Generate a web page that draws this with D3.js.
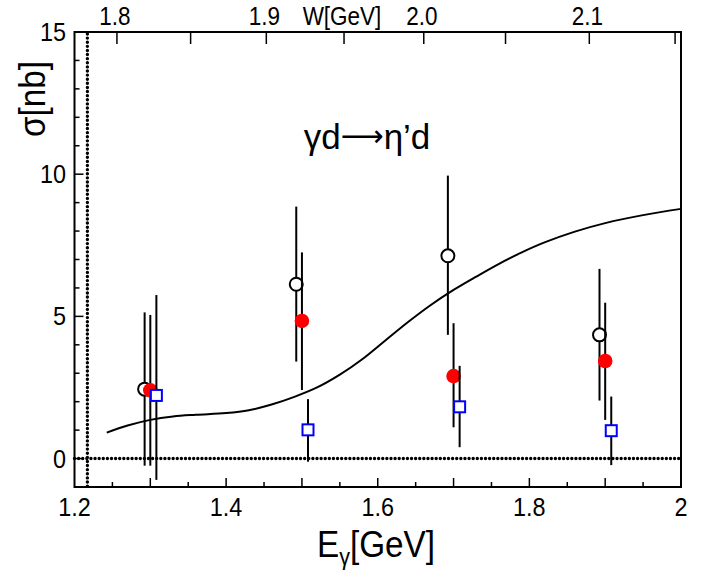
<!DOCTYPE html>
<html>
<head>
<meta charset="utf-8">
<script src="https://cdn.jsdelivr.net/npm/d3@7"></script>
<style>
  html, body { margin: 0; padding: 0; background: #fff; }
  svg { display: block; }
  text { font-family: "Liberation Sans", Arial, Helvetica, sans-serif; fill: #000; }
</style>
</head>
<body>
<svg id="chart" width="710" height="572"></svg>
<script>
// ---------- data ----------
const energies = [1.3, 1.5, 1.7, 1.9];

const openVal  = [2.44, 6.13, 7.13, 4.35];
const openLo   = [-0.25, 3.41, 4.35, 2.04];
const openHi   = [5.14, 8.86, 9.95, 6.67];

const redVal   = [2.40, 4.84, 2.90, 3.43];
const redLo    = [-0.25, 2.41, 1.10, 1.36];
const redHi    = [5.05, 7.25, 4.76, 5.48];

const blueVal  = [2.22, 1.01, 1.82, 0.98];
const blueLo   = [-0.75, -0.11, 0.40, -0.23];
const blueHi   = [5.75, 2.09, 3.26, 2.18];

const seriesShift = [-0.0075, 0.0, 0.008];   // open, red, blue horizontal offsets (GeV)

const curveE   = [1.2425, 1.27, 1.30, 1.33, 1.36, 1.40, 1.43, 1.46, 1.49, 1.52, 1.55, 1.58, 1.61, 1.64, 1.67, 1.70, 1.73, 1.76, 1.79, 1.82, 1.86, 1.90, 1.95, 2.00];
const curveS   = [0.91, 1.16, 1.36, 1.48, 1.54, 1.60, 1.70, 1.90, 2.17, 2.50, 2.95, 3.50, 4.15, 4.80, 5.40, 5.93, 6.40, 6.85, 7.25, 7.60, 7.98, 8.28, 8.56, 8.78];

const xTickLabels = ["1.2", "1.4", "1.6", "1.8", "2"];
const xTickValues = [1.2, 1.4, 1.6, 1.8, 2.0];
const yTickValues = [0, 5, 10, 15];
const wTickLabels = ["1.8", "1.9", "2.0", "2.1"];
const wTickValues = [1.8, 1.9, 2.0, 2.1];
const thresholdE = 1.217;

// ---------- layout ----------
const svg = d3.select("#chart");
const L = 74.5, R = 681, T = 32, B = 487;
const x = d3.scaleLinear().domain([1.2, 2.0]).range([L, R]);
const y = d3.scaleLinear().domain([-1, 15]).range([B, T]);
const mN = 0.9389;
const eFromW = w => (w * w - mN * mN) / (2 * mN);

// frame
svg.append("rect").attr("x", L).attr("y", T).attr("width", R - L).attr("height", B - T)
  .attr("fill", "none").attr("stroke", "#000").attr("stroke-width", 2);

// bottom ticks (inward)
const g = svg.append("g");
d3.range(1.2, 2.0001, 0.05).forEach((v, i) => {
  if (i === 0 || Math.abs(v - 2.0) < 1e-6) return;
  const major = i % 2 === 0;
  g.append("line").attr("x1", x(v)).attr("x2", x(v)).attr("y1", B).attr("y2", B - (major ? 9 : 5))
    .attr("stroke", "#000").attr("stroke-width", 1.5);
});
// left ticks
d3.range(-1, 15.001, 1).forEach(v => {
  if (v === -1 || v === 15) return;
  const major = v % 5 === 0;
  g.append("line").attr("x1", L).attr("x2", L + (major ? 9 : 5)).attr("y1", y(v)).attr("y2", y(v))
    .attr("stroke", "#000").attr("stroke-width", 1.5);
});
// top W ticks
d3.range(1.8, 2.1501, 0.05).forEach(w => {
  const e = eFromW(w);
  if (e < 1.2 || e > 2.0) return;
  g.append("line").attr("x1", x(e)).attr("x2", x(e)).attr("y1", T).attr("y2", T + 12)
    .attr("stroke", "#000").attr("stroke-width", 1.5);
});

// tick labels (slightly condensed like the original)
function condensed(sel, cx, cy, k) {
  return sel.attr("transform", `translate(${cx},${cy}) scale(${k},1)`);
}
xTickValues.forEach((v, i) => {
  condensed(svg.append("text"), x(v), 516, 0.9).attr("text-anchor", "middle")
    .attr("font-size", 26).text(xTickLabels[i]);
});
yTickValues.forEach(v => {
  condensed(svg.append("text"), 66, y(v) + 9, 0.9).attr("text-anchor", "end")
    .attr("font-size", 26).text(v);
});
wTickValues.forEach((w, i) => {
  condensed(svg.append("text"), x(eFromW(w)) - 2, 25, 0.9).attr("text-anchor", "middle")
    .attr("font-size", 25).text(wTickLabels[i]);
});
condensed(svg.append("text"), 342, 25, 0.9).attr("text-anchor", "middle")
  .attr("font-size", 25).text("W[GeV]");

// axis titles
const xt = condensed(svg.append("text"), 376, 557, 0.9).attr("text-anchor", "middle").attr("font-size", 37);
xt.append("tspan").text("E");
xt.append("tspan").attr("font-size", 24).attr("dy", 8).text("γ");
xt.append("tspan").attr("dy", -8).text("[GeV]");

svg.append("text").attr("transform", "translate(45,99) rotate(-90) scale(0.9,1)").attr("text-anchor", "middle")
  .attr("font-size", 37).text("σ[nb]");

// reaction label: γd ⟶ η'd  (long thin arrow)
const rt = svg.append("text").attr("x", 367).attr("y", 149).attr("text-anchor", "middle")
  .attr("font-size", 35);
rt.append("tspan").text("γd");
rt.append("tspan").attr("font-family", "DejaVu Sans").attr("font-size", 30).attr("dy", -3).text("⟶");
rt.append("tspan").attr("dy", 3).text("η’d");

// dotted reference lines
svg.append("line").attr("x1", L).attr("x2", R).attr("y1", y(0)).attr("y2", y(0))
  .attr("stroke", "#000").attr("stroke-width", 3.4).attr("stroke-linecap", "round")
  .attr("stroke-dasharray", "0.01,4.1");
svg.append("line").attr("x1", x(thresholdE)).attr("x2", x(thresholdE)).attr("y1", T + 2).attr("y2", B)
  .attr("stroke", "#000").attr("stroke-width", 3.4).attr("stroke-linecap", "round")
  .attr("stroke-dasharray", "0.01,4.1");

// model curve
const line = d3.line().x(d => x(d[0])).y(d => y(d[1])).curve(d3.curveCatmullRom.alpha(0.5));
svg.append("path").datum(curveE.map((e, i) => [e, curveS[i]]))
  .attr("d", line).attr("fill", "none").attr("stroke", "#000").attr("stroke-width", 2);

// data series
const series = [
  { val: openVal, lo: openLo, hi: openHi, kind: "open" },
  { val: redVal,  lo: redLo,  hi: redHi,  kind: "red" },
  { val: blueVal, lo: blueLo, hi: blueHi, kind: "blue" }
];
series.forEach((s, si) => {
  const grp = svg.append("g");
  energies.forEach((e, i) => {
    const cx = x(e + seriesShift[si]);
    grp.append("line").attr("x1", cx).attr("x2", cx).attr("y1", y(s.lo[i])).attr("y2", y(s.hi[i]))
      .attr("stroke", "#000").attr("stroke-width", 2);
  });
  energies.forEach((e, i) => {
    const cx = x(e + seriesShift[si]), cy = y(s.val[i]);
    if (s.kind === "open") {
      grp.append("circle").attr("cx", cx).attr("cy", cy).attr("r", 6.5)
        .attr("fill", "#fff").attr("stroke", "#000").attr("stroke-width", 2);
    } else if (s.kind === "red") {
      grp.append("circle").attr("cx", cx).attr("cy", cy).attr("r", 7.3).attr("fill", "#ff0000");
    } else {
      grp.append("rect").attr("x", cx - 5.5).attr("y", cy - 5.5).attr("width", 11).attr("height", 11)
        .attr("fill", "#fff").attr("stroke", "#0000ff").attr("stroke-width", 2);
    }
  });
});
</script>
</body>
</html>
